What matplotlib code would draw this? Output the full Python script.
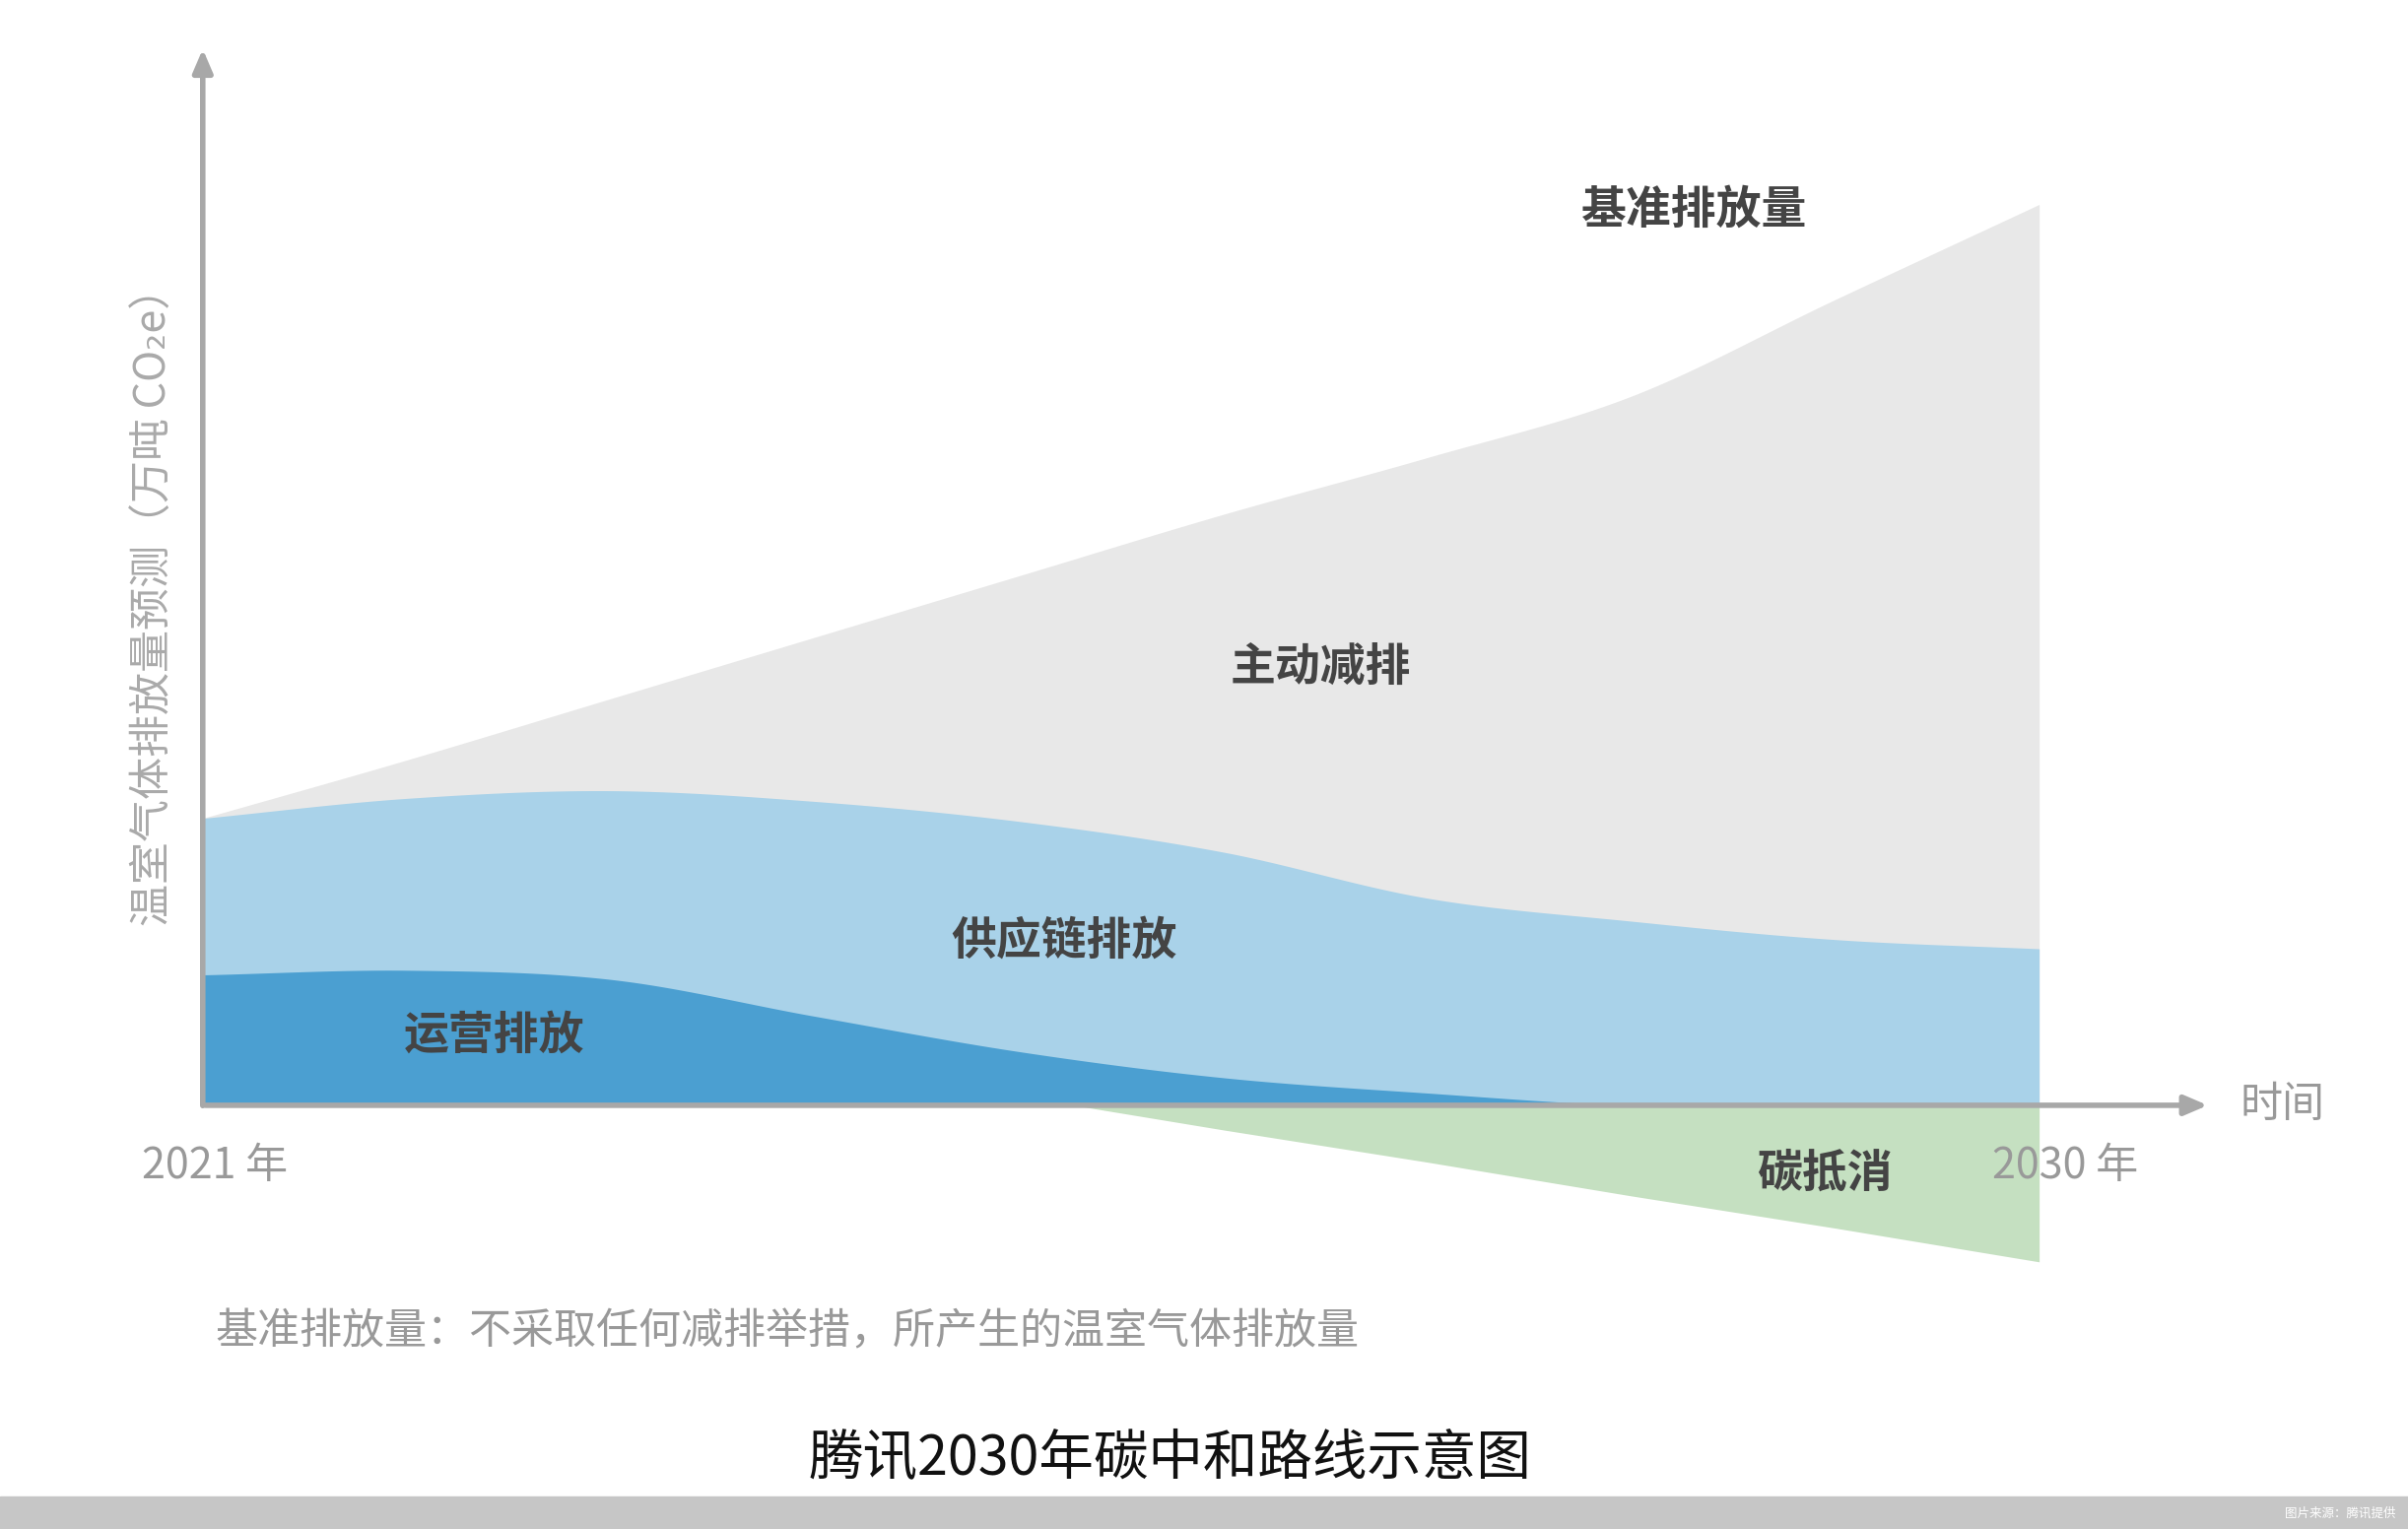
import numpy as np
import matplotlib
matplotlib.use("Agg")
import matplotlib.pyplot as plt

plt.rcParams['font.family'] = ['Noto Sans CJK SC', 'DejaVu Sans']

years = np.arange(10)  # 2021..2030
baseline = [187, 225, 265, 305, 345, 385, 422, 462, 525, 587]
supply_top = [187, 200, 205, 198, 185, 165, 135, 120, 108, 102]
operations = [85, 88, 82, 58, 35, 18, 8, 0, 0, 0]
offset_t = [4.27, 5, 6, 7, 8, 9]
offset = [0, -16, -37, -59, -80, -102]

def smooth(x, y, n=400):
    x = np.asarray(x, float); y = np.asarray(y, float)
    xs = np.linspace(x[0], x[-1], n)
    # Catmull-Rom
    ys = np.empty_like(xs)
    m = np.gradient(y, x)
    for i, xv in enumerate(xs):
        k = min(np.searchsorted(x, xv, side='right') - 1, len(x) - 2)
        h = x[k+1] - x[k]; s = (xv - x[k]) / h
        h00 = 2*s**3 - 3*s**2 + 1; h10 = s**3 - 2*s**2 + s
        h01 = -2*s**3 + 3*s**2; h11 = s**3 - s**2
        ys[i] = h00*y[k] + h10*h*m[k] + h01*y[k+1] + h11*h*m[k+1]
    return xs, ys

fig = plt.figure(figsize=(24.44, 15.52), dpi=100)
ax = fig.add_axes([0.0842, 0.1667, 0.918 - 0.0842, 0.803])
ax.set_xlim(0, 9.84)
ax.set_ylim(-110, 690)
ax.axis('off')

xb, yb = smooth(years, baseline)
xs, ys = smooth(years, supply_top)
xo, yo = smooth(years, operations)
yo = np.clip(yo, 0, None)
ax.fill_between(xb, 0, yb, color='#e8e8e8', lw=0, zorder=1)
ax.fill_between(xs, 0, ys, color='#a9d2e9', lw=0, zorder=2)
ax.fill_between(xo, 0, yo, color='#4b9fd1', lw=0, zorder=3)
ax.fill_between(offset_t, 0, offset, color='#c5e0c1', lw=0, zorder=2)

ac = '#a8a8a8'
ax.annotate('', xy=(9.84, 0), xytext=(0, 0),
            arrowprops=dict(arrowstyle='-|>,head_length=1.4,head_width=0.6', color=ac, lw=4), zorder=5)
ax.annotate('', xy=(0, 690), xytext=(0, -2),
            arrowprops=dict(arrowstyle='-|>,head_length=1.4,head_width=0.6', color=ac, lw=4), zorder=5)

lc = '#444444'
kw = dict(fontsize=33, fontweight='bold', color=lc, ha='center', va='center', zorder=6)
ax.text(7.31, 583, '基准排放量', **kw)
ax.text(5.48, 285, '主动减排', **kw)
ax.text(4.22, 107, '供应链排放', **kw)
ax.text(1.43, 45, '运营排放', **kw)
ax.text(7.95, -45, '碳抵消', **kw)

gc = '#999999'
ax.text(0.06, -40, '2021 年', fontsize=31, color=gc, ha='center', va='center')
ax.text(9.13, -40, '2030 年', fontsize=31, color=gc, ha='center', va='center')
ax.text(10.19, 0, '时间', fontsize=31, color=gc, ha='center', va='center', clip_on=False)

fig.text(0.064, 0.61, '温室气体排放量预测（万吨 CO₂e）', rotation=90, fontsize=31,
         color='#aaaaaa', ha='center', va='center')
fig.text(0.0893, 0.1285, '基准排放量：不采取任何减排举措，所产生的温室气体排放量',
         fontsize=31, color=gc, ha='left', va='center')
fig.text(0.486, 0.046, '腾讯2030年碳中和路线示意图', fontsize=40, color='#111111',
         ha='center', va='center')

fig.patches.append(plt.Rectangle((0, 0), 1, 0.021, transform=fig.transFigure,
                                 color='#c6c6c6', zorder=0))
fig.text(0.995, 0.0105, '图片来源：腾讯提供', fontsize=9, color='white', ha='right', va='center')

fig.savefig('out.png', dpi=100, facecolor='white')
